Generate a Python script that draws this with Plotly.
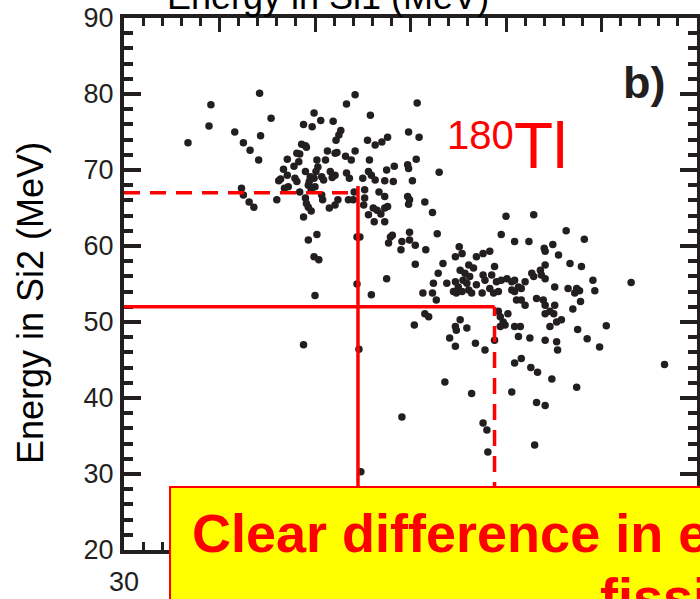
import plotly.graph_objects as go

# Fragment energies (MeV): light fragment in Si1 (x) vs heavy fragment in Si2 (y)
e_si1 = [
    36.7, 39.1, 38.9, 41.6, 42.5, 43.2, 44.2, 42.3, 42.5, 43.1, 43.6,
    45.4, 44.3, 44.1, 49.9, 48.8, 49.7, 50.6, 51.9, 55.8, 52.7, 52.5, 52.2,
    48.6, 49.0, 49.1, 48.1, 48.4, 51.3, 52.3, 52.1, 54.2, 55.5, 56.3, 57.0,
    47.1, 48.3, 50.2, 51.1, 53.2, 53.8, 55.7, 47.8, 49.0, 50.3, 46.7, 47.1,
    46.4, 46.2, 47.9, 48.1, 49.4, 49.5, 49.9, 50.1, 50.7, 50.9, 51.6, 52.1,
    51.8, 53.3, 53.6, 55.6, 55.9, 55.0, 56.3, 57.5, 58.3, 57.3, 58.2, 47.2,
    46.8, 48.4, 49.3, 50.0, 49.6, 46.0, 49.0, 49.1, 49.3, 49.6, 50.7, 50.8,
    51.5, 52.1, 52.4, 53.5, 54.1, 54.0, 55.2, 55.2, 55.1, 55.6, 56.2, 56.5,
    56.7, 57.3, 57.3, 57.6, 57.3, 56.1, 56.9, 48.8,
    53.3, 54.2, 60.7, 59.8, 60.9, 57.6, 59.7, 59.8, 60.6, 63.0, 60.2, 59.7,
    59.9, 59.8, 61.5, 62.3, 54.4, 54.7, 50.2, 49.3, 49.9, 50.4, 50.0, 54.4,
    55.9, 57.5, 57.9, 57.7, 58.1, 59.1, 59.0, 59.9, 59.9, 60.5, 61.6, 62.8,
    60.5, 63.8, 62.3,
    70.0, 72.9, 69.5, 70.9, 72.4, 74.9, 76.3, 78.2, 74.0, 65.1, 76.7, 77.9,
    76.5, 77.4, 77.7, 77.2, 79.1, 79.3, 83.1, 77.8, 77.0, 60.4, 77.5, 78.5,
    80.5, 79.8, 70.9, 71.6, 72.6, 73.3, 74.8, 77.4, 86.6, 63.6, 66.4, 70.6,
    73.2, 74.1, 59.1, 67.6, 68.0, 73.0, 68.1,
    48.8, 54.6, 54.8,
    65.2, 65.7, 66.1, 66.2, 66.6, 65.5, 65.9, 65.0, 64.7, 64.5, 64.8, 65.4,
    66.1, 66.4, 66.9, 67.5, 67.6, 67.8, 68.5, 68.8, 69.0, 68.3, 68.7, 69.2,
    69.5, 70.1, 70.6, 70.9, 71.3, 70.6, 70.9, 71.6, 72.0, 72.7, 72.9, 73.6,
    73.7, 74.1, 74.1, 75.1, 71.1, 71.6, 72.0, 73.2, 73.9, 74.1, 75.1, 74.1,
    74.6, 75.0, 75.8, 75.3, 74.6, 69.2, 69.4, 69.7, 69.9, 69.4, 70.2, 70.9,
    71.5, 71.3, 72.5, 74.1, 75.3, 75.4, 65.9, 64.7, 64.8, 65.2, 64.1, 64.7,
    66.8, 67.8, 68.8, 61.5, 61.9, 62.7, 62.4, 61.3, 62.9, 63.4, 64.7, 65.4,
    66.9, 67.6, 68.3, 74.1, 75.5,
]
e_si2 = [
    73.6, 78.6, 75.8, 75.0, 73.6, 72.6, 80.1, 67.6, 66.7, 65.8, 65.1,
    76.8, 74.5, 71.3, 77.5, 76.0, 75.7, 76.5, 76.4, 77.2, 75.2, 74.6, 73.9,
    73.4, 73.2, 73.0, 72.2, 72.1, 72.5, 72.3, 72.2, 72.5, 73.9, 73.3, 73.7,
    71.4, 71.1, 71.3, 71.3, 71.8, 71.3, 71.3, 70.5, 69.8, 70.4, 70.1, 69.3,
    68.8, 68.6, 68.9, 68.5, 68.5, 69.1, 68.9, 69.8, 69.1, 68.7, 69.8, 69.3,
    69.0, 69.6, 68.9, 69.8, 69.3, 68.9, 68.7, 70.0, 70.5, 68.6, 68.5, 67.8,
    67.6, 67.1, 68.0, 67.8, 67.4, 66.1, 66.3, 65.6, 65.1, 64.6, 66.7, 66.1,
    65.0, 65.4, 66.1, 66.1, 67.1, 66.1, 67.4, 66.3, 65.4, 64.1, 63.2, 64.7,
    67.1, 66.5, 65.0, 65.2, 63.2, 65.0, 64.2, 63.8,
    78.7, 79.9, 78.8, 75.0, 74.3, 74.3, 70.7, 70.2, 71.4, 69.7, 68.6, 66.5,
    66.1, 65.5, 65.8, 64.4, 61.2, 61.2, 61.5, 60.8, 58.6, 58.2, 53.5, 55.0,
    53.6, 55.7, 61.2, 60.4, 61.4, 60.6, 59.5, 61.8, 60.8, 60.1, 59.5, 61.6,
    57.6, 55.1, 53.8,
    63.9, 64.1, 61.5, 60.6, 60.6, 60.2, 62.0, 60.9, 59.7, 59.9, 57.7, 57.3,
    54.4, 54.4, 54.1, 53.8, 55.5, 54.1, 55.2, 52.7, 51.7, 49.6, 49.0, 47.8,
    49.5, 46.7, 44.6, 45.2, 44.0, 43.4, 42.5, 41.4, 44.4, 42.1, 40.6, 40.8,
    39.4, 39.0, 37.5, 36.7, 35.8, 33.8, 32.9,
    47.0, 46.4, 30.3,
    56.8, 56.4, 57.5, 56.0, 57.1, 55.5, 55.1, 54.6, 55.3, 54.0, 53.8, 54.0,
    54.2, 53.8, 54.9, 53.8, 56.2, 55.5, 56.2, 57.3, 55.3, 54.4, 53.8, 54.0,
    55.5, 55.7, 55.3, 55.5, 54.6, 54.2, 54.0, 54.4, 55.3, 56.4, 56.0, 56.8,
    56.2, 57.5, 55.7, 54.6, 52.9, 52.9, 52.2, 53.1, 52.9, 52.2, 52.2, 51.1,
    51.4, 51.1, 50.3, 50.0, 49.4, 51.4, 50.7, 50.0, 49.6, 49.4, 51.1, 49.4,
    49.4, 48.1, 47.9, 47.6, 47.4, 46.3, 49.2, 49.4, 48.9, 50.3, 47.9, 46.8,
    47.2, 46.3, 47.6, 51.1, 50.7, 52.9, 55.1, 53.8, 56.4, 57.7, 58.6, 59.0,
    58.6, 59.0, 59.3, 59.3, 58.8,
]

# Mean energies of the two peaks, marked by the red guide lines
peak1_x, peak1_y = 54.5, 67.0
peak2_x, peak2_y = 68.8, 52.0

x_range = [30, 90]
y_range = [20, 90]

# Bottom-axis labels: only the first one sits clear of the call-out box
x_tick_vals = [30, 40, 50, 60, 70, 80, 90]
x_tick_text = ["30", "", "", "", "", "", ""]

INK = "#231f20"
RED = "#ff0000"
FONT = "Liberation Sans, Arial, sans-serif"

# plot-area geometry in pixels, used for placing paper-referenced text
L, R, T, B, W, H = 124, 3, 18, 49, 700, 599
PW, PH = W - L - R, H - T - B


def px_x(px):
    return (px - L) / PW


def px_y(py):
    return (H - B - py) / PH


fig = go.Figure()
fig.add_trace(go.Scatter(
    x=e_si1, y=e_si2, mode="markers",
    marker=dict(size=7.5, color=INK, line=dict(width=0)),
    showlegend=False, hoverinfo="x+y",
))

line_red = dict(color=RED, width=3.5)
dash_red = dict(color=RED, width=3.5, dash="16px,10px")
shapes = [
    dict(type="line", xref="x", yref="y", x0=x_range[0], x1=peak1_x,
         y0=peak1_y, y1=peak1_y, line=dash_red, layer="above"),
    dict(type="line", xref="x", yref="y", x0=peak1_x, x1=peak1_x,
         y0=y_range[0], y1=peak1_y + 0.9, line=line_red, layer="above"),
    dict(type="line", xref="x", yref="y", x0=x_range[0], x1=peak2_x,
         y0=peak2_y, y1=peak2_y, line=line_red, layer="above"),
    dict(type="line", xref="x", yref="y", x0=peak2_x, x1=peak2_x,
         y0=y_range[0], y1=peak2_y, line=dash_red, layer="above"),
    # yellow call-out box
    dict(type="rect", xref="paper", yref="paper",
         x0=px_x(170), x1=1.3, y0=px_y(487), y1=-0.3,
         fillcolor="#ffff00", line=dict(color=RED, width=2), layer="above"),
]

annotations = [
    dict(text="Energy in Si1 (MeV)", xref="paper", yref="paper",
         x=px_x(328), y=px_y(-3), xanchor="center", yanchor="middle",
         showarrow=False, font=dict(family=FONT, size=36, color="black")),
    dict(text="Energy in Si2 (MeV)", xref="paper", yref="paper",
         x=px_x(30), y=px_y(303), xanchor="center", yanchor="middle",
         textangle=-90, showarrow=False,
         font=dict(family=FONT, size=36, color="black")),
    dict(text="<b>b)</b>", xref="paper", yref="paper",
         x=px_x(621), y=px_y(82), xanchor="left", yanchor="middle",
         showarrow=False, font=dict(family=FONT, size=45, color=INK)),
    dict(text="180", xref="paper", yref="paper",
         x=px_x(445), y=px_y(135), xanchor="left", yanchor="middle",
         showarrow=False, font=dict(family=FONT, size=40, color=RED)),
    dict(text="Tl", xref="paper", yref="paper",
         x=px_x(512), y=px_y(146), xanchor="left", yanchor="middle",
         showarrow=False, font=dict(family=FONT, size=64, color=RED)),
    dict(text="<b>Clear difference in energy of the</b>", xref="paper",
         yref="paper", x=px_x(190), y=px_y(533), xanchor="left",
         yanchor="middle", showarrow=False,
         font=dict(family=FONT, size=54, color=RED)),
    dict(text="<b>fission fragments</b>", xref="paper", yref="paper",
         x=px_x(598), y=px_y(597), xanchor="left", yanchor="middle",
         showarrow=False, font=dict(family=FONT, size=54, color=RED)),
]

axis_common = dict(
    showline=True, linewidth=4, linecolor=INK, mirror="ticks",
    ticks="inside", showgrid=False, zeroline=False, automargin=False,
    tickfont=dict(family=FONT, size=27, color=INK),
)

fig.update_layout(
    width=W, height=H,
    margin=dict(l=L, r=R, t=T, b=B, pad=0, autoexpand=False),
    paper_bgcolor="white", plot_bgcolor="white",
    xaxis=dict(**axis_common, range=x_range,
               tickmode="array", tickvals=x_tick_vals, ticktext=x_tick_text,
               ticklen=14, tickwidth=2.5, tickcolor=INK,
               ticklabelstandoff=5,
               minor=dict(dtick=2, tick0=30, ticks="inside", ticklen=8,
                          tickwidth=2.5, tickcolor=INK)),
    yaxis=dict(**axis_common, range=y_range, dtick=10, tick0=20,
               ticklen=17, tickwidth=4, tickcolor=INK,
               ticklabelstandoff=1,
               minor=dict(dtick=2, ticks="inside", ticklen=9,
                          tickwidth=4, tickcolor=INK)),
    shapes=shapes, annotations=annotations,
)

fig.write_html("out.html")
